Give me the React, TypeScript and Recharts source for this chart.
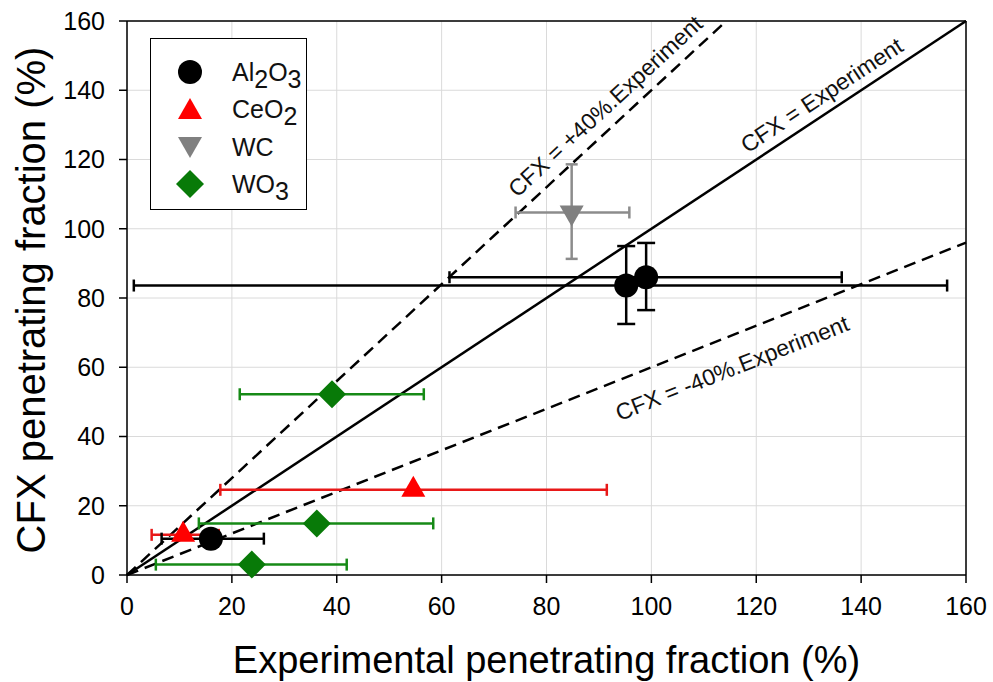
import {
  ScatterChart, Scatter, XAxis, YAxis, CartesianGrid, ErrorBar,
  ReferenceLine, ReferenceDot, Legend, Label,
} from 'recharts';

const FONT = '"Liberation Sans", Arial, sans-serif';

// axis ticks
const axisTicks = [0, 20, 40, 60, 80, 100, 120, 140, 160];

// Al2O3
const al2o3X = [16.0, 95.2, 99.0];
const al2o3Y = [10.5, 83.6, 86.0];
const al2o3XLo = [6.6, 1.3, 61.5];
const al2o3XHi = [26.1, 156.4, 136.3];
const al2o3YLo = [10.5, 72.5, 76.5];
const al2o3YHi = [10.5, 95.0, 95.9];

// CeO2
const ceo2X = [10.7, 54.6];
const ceo2Y = [11.6, 24.6];
const ceo2XLo = [4.7, 17.8];
const ceo2XHi = [17.5, 91.5];

// WC
const wcX = [84.8];
const wcY = [104.7];
const wcXLo = [74.1];
const wcXHi = [95.8];
const wcYLo = [91.3];
const wcYHi = [118.6];

// WO3
const wo3X = [39.1, 36.2, 23.8];
const wo3Y = [52.2, 14.9, 3.0];
const wo3XLo = [21.5, 13.7, 5.5];
const wo3XHi = [56.6, 58.4, 41.9];

// reference lines: CFX = k * Experiment
const refSlopes = [1, 1.4, 0.6];
const refLabels = ['CFX = Experiment', 'CFX = +40%.Experiment', 'CFX = -40%.Experiment'];
const refLabelAt = [[132.5, 138.6], [91.2, 135.4], [115.4, 59.8]];
const refLabelAngle = [-33.4, -42.7, -21.6];

const build = (xs: number[], ys: number[], xlo: number[], xhi: number[], ylo?: number[], yhi?: number[]) =>
  xs.map((x, i) => ({
    x,
    y: ys[i],
    ex: [x - xlo[i], xhi[i] - x],
    ey: ylo && yhi ? [ys[i] - ylo[i], yhi[i] - ys[i]] : [0, 0],
  }));

const al2o3Data = build(al2o3X, al2o3Y, al2o3XLo, al2o3XHi, al2o3YLo, al2o3YHi);
const ceo2Data = build(ceo2X, ceo2Y, ceo2XLo, ceo2XHi);
const wcData = build(wcX, wcY, wcXLo, wcXHi, wcYLo, wcYHi);
const wo3Data = build(wo3X, wo3Y, wo3XLo, wo3XHi);

const BLACK = '#000000';
const RED = '#ff0000';
const RED_BAR = '#e81818';
const GRAY = '#808080';
const GRAY_BAR = '#8c8c8c';
const GREEN = '#087a08';
const GREEN_BAR = '#168a16';

const Circle = ({ cx, cy }: any) => <circle cx={cx} cy={cy} r={12} fill={BLACK} />;
const TriUp = ({ cx, cy, fill = RED }: any) => (
  <polygon points={`${cx},${cy - 14} ${cx - 12},${cy + 7} ${cx + 12},${cy + 7}`} fill={fill} />
);
const TriDown = ({ cx, cy, fill = GRAY }: any) => (
  <polygon points={`${cx - 12},${cy - 7} ${cx + 12},${cy - 7} ${cx},${cy + 14}`} fill={fill} />
);
const Diamond = ({ cx, cy, fill = GREEN }: any) => (
  <polygon points={`${cx},${cy - 14} ${cx + 14},${cy} ${cx},${cy + 14} ${cx - 14},${cy}`} fill={fill} />
);

const legendItems = [
  { icon: 'circle', parts: [['Al', ''], ['2', 'sub'], ['O', ''], ['3', 'sub']] },
  { icon: 'up', parts: [['CeO', ''], ['2', 'sub']] },
  { icon: 'down', parts: [['WC', '']] },
  { icon: 'diamond', parts: [['WO', ''], ['3', 'sub']] },
];

const LegendBox = () => (
  <div
    style={{
      width: 157, height: 172, boxSizing: 'border-box', border: '1.5px solid #000',
      background: '#fff', padding: '14px 0 0 22px', fontFamily: FONT, fontSize: 25, color: '#111',
    }}
  >
    {legendItems.map((it, i) => (
      <div key={i} style={{ display: 'flex', alignItems: 'center', height: 37.5 }}>
        <svg width={34} height={34} style={{ marginRight: 25 }}>
          {it.icon === 'circle' && <Circle cx={17} cy={17} />}
          {it.icon === 'up' && <TriUp cx={17} cy={20} />}
          {it.icon === 'down' && <TriDown cx={17} cy={14} />}
          {it.icon === 'diamond' && <Diamond cx={17} cy={17} />}
        </svg>
        <span style={{ lineHeight: '26px' }}>
          {it.parts.map(([t, k], j) =>
            k === 'sub' ? (
              <span key={j} style={{ fontSize: 25, position: 'relative', top: 7 }}>{t}</span>
            ) : (
              <span key={j}>{t}</span>
            ),
          )}
        </span>
      </div>
    ))}
  </div>
);

const lineLabel = (text: string, angle: number) => (props: any) => {
  const vb = props.viewBox || {};
  const x = (vb.x ?? 0) + (vb.width ?? 0) / 2;
  const y = (vb.y ?? 0) + (vb.height ?? 0) / 2;
  return (
    <text
      x={x}
      y={y}
      transform={`rotate(${angle}, ${x}, ${y})`}
      textAnchor="middle"
      dominantBaseline="central"
      fill="#111"
      style={{ fontSize: 23, fontFamily: FONT }}
    >
      {text}
    </text>
  );
};

export default function App() {
  const tick = { fill: '#000', fontSize: 25, fontFamily: FONT };
  return (
    <div style={{ position: 'absolute', left: 0, top: 0, width: 993, height: 682, background: '#fff' }}>
      <ScatterChart width={993} height={682} margin={{ top: 21, right: 27, bottom: 0, left: 0 }}>
        <CartesianGrid stroke="#dadada" strokeWidth={1} />
        <XAxis
          type="number"
          dataKey="x"
          domain={[0, 160]}
          ticks={axisTicks}
          interval={0}
          height={107}
          tick={tick}
          tickSize={8}
          tickMargin={14}
          axisLine={{ stroke: '#000', strokeWidth: 1.5 }}
          tickLine={{ stroke: '#000', strokeWidth: 1.5 }}
        >
          <Label
            content={(p: any) => {
              const vb = p.viewBox;
              return (
                <text x={vb.x + vb.width / 2} y={vb.y + 98} textAnchor="middle" fill="#000"
                  style={{ fontSize: 38, fontFamily: FONT }}>
                  Experimental penetrating fraction (%)
                </text>
              );
            }}
          />
        </XAxis>
        <YAxis
          type="number"
          dataKey="y"
          domain={[0, 160]}
          ticks={axisTicks}
          interval={0}
          width={127}
          tick={tick}
          tickSize={8}
          tickMargin={14}
          axisLine={{ stroke: '#000', strokeWidth: 1.5 }}
          tickLine={{ stroke: '#000', strokeWidth: 1.5 }}
        >
          <Label
            content={(p: any) => {
              const vb = p.viewBox;
              const cx = vb.x + 31;
              const cy = vb.y + vb.height / 2 + 2;
              return (
                <text x={cx} y={cy} transform={`rotate(-90, ${cx}, ${cy})`} textAnchor="middle"
                  dominantBaseline="central" fill="#000" style={{ fontSize: 40, fontFamily: FONT }}>
                  CFX penetrating fraction (%)
                </text>
              );
            }}
          />
        </YAxis>

        <ReferenceLine y={160} stroke="#000" strokeWidth={1.5} />
        <ReferenceLine x={160} stroke="#000" strokeWidth={1.5} />

        {refSlopes.map((k, i) => (
          <ReferenceLine
            key={`ref-${i}`}
            segment={[{ x: 0, y: 0 }, { x: Math.min(160, 160 / k), y: Math.min(160, 160 * k) }]}
            stroke="#000"
            strokeWidth={2.5}
            strokeDasharray={k === 1 ? undefined : '12 7'}
          />
        ))}
        {refLabels.map((t, i) => (
          <ReferenceDot
            key={`lbl-${i}`}
            x={refLabelAt[i][0]}
            y={refLabelAt[i][1]}
            r={0}
            fill="none"
            stroke="none"
            label={lineLabel(t, refLabelAngle[i])}
          />
        ))}

        <Scatter name="WO3" data={wo3Data} shape={<Diamond />} isAnimationActive={false}>
          <ErrorBar dataKey="ex" direction="x" width={6} stroke={GREEN_BAR} strokeWidth={2.5} />
        </Scatter>
        <Scatter name="CeO2" data={ceo2Data} shape={<TriUp />} isAnimationActive={false}>
          <ErrorBar dataKey="ex" direction="x" width={6} stroke={RED_BAR} strokeWidth={2.5} />
        </Scatter>
        <Scatter name="WC" data={wcData} shape={<TriDown />} isAnimationActive={false}>
          <ErrorBar dataKey="ex" direction="x" width={6} stroke={GRAY_BAR} strokeWidth={2.5} />
          <ErrorBar dataKey="ey" direction="y" width={6} stroke={GRAY_BAR} strokeWidth={2.5} />
        </Scatter>
        <Scatter name="Al2O3" data={al2o3Data} shape={<Circle />} isAnimationActive={false}>
          <ErrorBar dataKey="ex" direction="x" width={6} stroke={BLACK} strokeWidth={2.5} />
          <ErrorBar dataKey="ey" direction="y" width={9} stroke={BLACK} strokeWidth={2.5} />
        </Scatter>

        <Legend
          layout="vertical"
          align="center"
          verticalAlign="middle"
          content={() => <LegendBox />}
          wrapperStyle={{ left: 150, top: 38, width: 157, height: 172 }}
        />
      </ScatterChart>
    </div>
  );
}
